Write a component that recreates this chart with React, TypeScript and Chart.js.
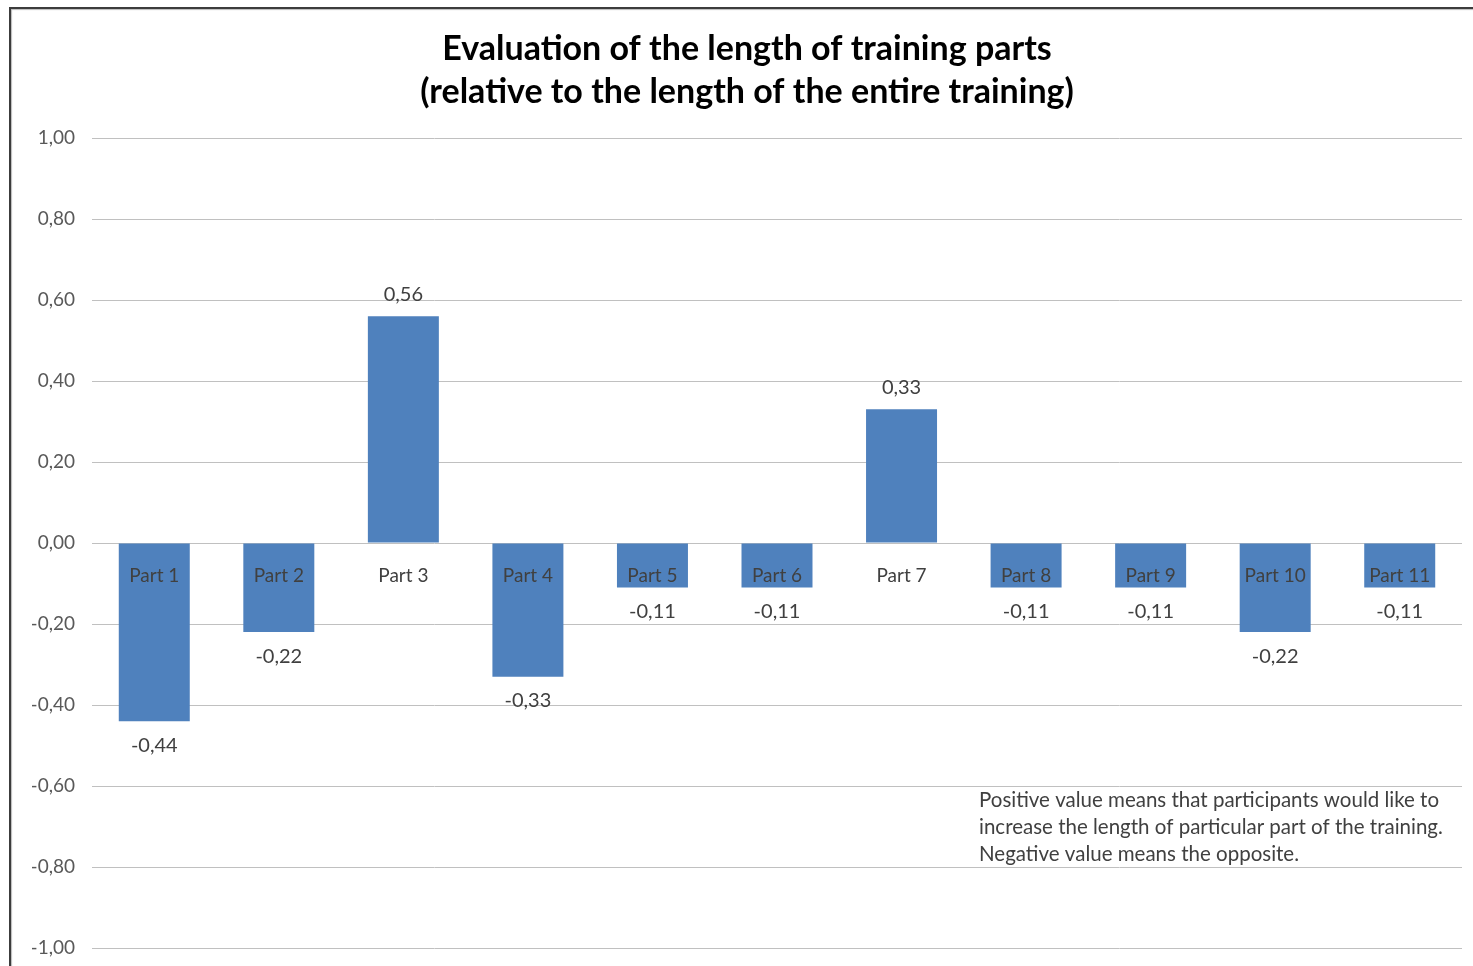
import React, { useEffect, useRef } from "react";
import { Chart, registerables } from "chart.js";

Chart.register(...registerables);

const categories = ["Part 1", "Part 2", "Part 3", "Part 4", "Part 5", "Part 6", "Part 7", "Part 8", "Part 9", "Part 10", "Part 11"];
const values = [-0.44, -0.22, 0.56, -0.33, -0.11, -0.11, 0.33, -0.11, -0.11, -0.22, -0.11];
const titleLines = ["Evaluation of the length of training parts", "(relative to the length of the entire training)"];
const noteLines = [
  "Positive value means that participants would like to",
  "increase the length of particular part of the training.",
  "Negative value means the opposite.",
];
const yMin = -1;
const yMax = 1;
const yStep = 0.2;

const FONT = "Lato, 'Noto Sans', sans-serif";
const fmt = (v: number) => (Math.abs(v) < 1e-9 ? 0 : v).toFixed(2).replace(".", ",");

const labelPlugin = {
  id: "barLabels",
  afterDatasetsDraw(chart: any) {
    const ctx = chart.ctx;
    const meta = chart.getDatasetMeta(0);
    const y = chart.scales.y;
    const zero = y.getPixelForValue(0);
    ctx.save();
    ctx.textAlign = "center";
    ctx.textBaseline = "middle";
    ctx.fillStyle = "#404040";
    meta.data.forEach((bar: any, i: number) => {
      const v = values[i];
      ctx.font = `19px ${FONT}`;
      ctx.fillText(categories[i], bar.x, zero + 33);
      ctx.font = `20px ${FONT}`;
      ctx.fillText(fmt(v), bar.x, v >= 0 ? bar.y - 22 : bar.y + 24);
    });
    ctx.textAlign = "left";
    ctx.font = `20.5px ${FONT}`;
    const nx = chart.chartArea.right - 483;
    const ny = y.getPixelForValue(-0.6) + 14;
    noteLines.forEach((t, k) => ctx.fillText(t, nx, ny + k * 27));
    ctx.restore();
  },
};

export default function App() {
  const ref = useRef<HTMLCanvasElement>(null);
  useEffect(() => {
    if (!ref.current) return;
    const chart = new Chart(ref.current, {
      type: "bar",
      data: {
        labels: categories,
        datasets: [
          {
            data: values,
            backgroundColor: "#4F81BD",
            borderWidth: 0,
            barPercentage: 0.57,
            categoryPercentage: 1,
          },
        ],
      },
      options: {
        animation: false,
        responsive: false,
        layout: { padding: { left: 32, right: 11, top: 0, bottom: 18 } },
        plugins: {
          legend: { display: false },
          tooltip: { enabled: false },
          title: {
            display: true,
            text: titleLines,
            color: "#000000",
            font: { family: FONT, size: 34, weight: "bold", lineHeight: "43px" },
            padding: { top: 28, bottom: 24 },
          },
        },
        scales: {
          x: { display: false, grid: { display: false } },
          y: {
            min: yMin,
            max: yMax,
            afterFit: (s: any) => {
              s.width = 60;
              s.paddingTop = 0;
              s.paddingBottom = 0;
            },
            border: { display: false },
            grid: { color: "#c0c0c0", lineWidth: 1, drawTicks: false },
            ticks: {
              stepSize: yStep,
              padding: 17,
              color: "#595959",
              font: { family: FONT, size: 19 },
              callback: (v: any) => fmt(Number(v)),
            },
          },
        },
      },
      plugins: [labelPlugin],
    });
    return () => chart.destroy();
  }, []);

  return (
    <div style={{ position: "fixed", left: 0, top: 0, width: 1473, height: 966, background: "#fff", overflow: "hidden" }}>
      <canvas ref={ref} width={1473} height={966} style={{ position: "absolute", left: 0, top: 0 }} />
      <div
        style={{
          position: "absolute",
          left: 9,
          top: 7,
          width: 1500,
          height: 1000,
          borderLeft: "2px solid #3c3c3c",
          borderTop: "2px solid #3c3c3c",
          boxShadow: "inset 1px 1px 1px #bbb",
          pointerEvents: "none",
        }}
      />
    </div>
  );
}
